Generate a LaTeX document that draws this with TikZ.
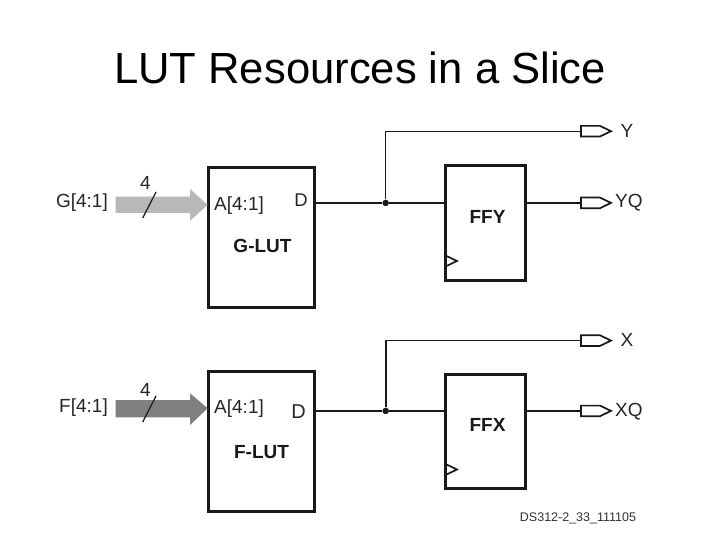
\documentclass[tikz,border=0pt]{standalone}
\usepackage{fontspec}
\setmainfont{Liberation Sans}
\tikzset{
 x=1pt,y=-1pt,
 box/.style={draw=black!90,line width=3pt,fill=white,inner sep=0pt,outer sep=0pt,anchor=north west},
 wire/.style={draw=black!90,line width=1.7pt},
 thin wire/.style={draw=black!90,line width=1.2pt},
 lbl/.style={font=\fontsize{19}{20}\selectfont,text=black!85,inner sep=0pt},
 blbl/.style={font=\fontsize{19}{20}\selectfont\bfseries,text=black!90,inner sep=0pt},
 port/.style={draw=black!90,line width=1.7pt,fill=white,line join=miter},
 dotn/.style={circle,fill=black!90,inner sep=0pt,minimum size=6.5pt},
}
\begin{document}
\begin{tikzpicture}
\useasboundingbox (0,0) rectangle (720,540);
\fill[white] (0,0) rectangle (720,540);
\node[inner sep=0pt,font=\fontsize{43.6}{46}\selectfont,text=black] (title) at (360,68) {LUT Resources in a Slice};
% boxes
\node[box,minimum width=105.7pt,minimum height=140.3pt] (glut) at (208.5,167.2) {};
\node[box,minimum width=105.7pt,minimum height=139.8pt] (flut) at (208.5,371.5) {};
\node[box,minimum width=79.9pt,minimum height=114.7pt] (ffy) at (445.3,165.5) {};
\node[box,minimum width=79.9pt,minimum height=114pt] (ffx) at (445.3,374.8) {};
% bus arrows
\fill[black!28] (115.7,196.7) -- (190,196.7) -- (190,189) -- (207.7,205) -- (190,220.7) -- (190,213) -- (115.7,213) -- cycle;
\fill[black!50] (115.7,400) -- (190,400) -- (190,393.3) -- (207.7,408.3) -- (190,425) -- (190,417.3) -- (115.7,417.3) -- cycle;
\coordinate (gs1) at (142.7,218); \coordinate (gs2) at (156,192);
\coordinate (fs1) at (142.7,422); \coordinate (fs2) at (156,396);
\draw[thin wire] (gs1) -- (gs2);
\draw[thin wire] (fs1) -- (fs2);
% labels left
\node[lbl,anchor=east] (gin) at (108,202.5) {G[4:1]};
\node[lbl,anchor=east] (fin) at (108,408) {F[4:1]};
\node[lbl] (g4) at (145.5,183) {4};
\node[lbl] (f4) at (145.5,390) {4};
\node[lbl,anchor=west] (ga) at (214,205.5) {A[4:1]};
\node[lbl,anchor=west] (fa) at (214,409) {A[4:1]};
\node[lbl,font=\fontsize{18.5}{19}\selectfont] (gd) at (301,200.5) {D};
\node[lbl,font=\fontsize{20}{21}\selectfont] (fd) at (298.5,412) {D};
\node[blbl] (gl) at (262.5,246) {G-LUT};
\node[blbl] (fl) at (261.5,452) {F-LUT};
\node[blbl] (fy) at (487.5,217) {FFY};
\node[blbl] (fx) at (487.5,425) {FFX};
% ports
\foreach \n/\y in {py/131.2,pyq/202.9,px/340.6,pxq/410.9}{
 \draw[port] (581,\y-5.3) -- (600,\y-5.3) -- (611,\y) -- (600,\y+5.3) -- (581,\y+5.3) -- cycle;
 \coordinate (\n) at (581,\y);
}
\node[lbl,anchor=west] (ty) at (620.5,131) {Y};
\node[lbl,anchor=west] (tyq) at (615,202.5) {YQ};
\node[lbl,anchor=west] (tx) at (620.5,340) {X};
\node[lbl,anchor=west] (txq) at (615,411.5) {XQ};
% wires
\node[dotn] (dg) at (385.7,202.9) {};
\node[dotn] (df) at (385.7,410.9) {};
\draw[wire] (glut.east |- dg) -- (dg) -- (ffy.west |- dg);
\draw[wire] (flut.east |- df) -- (df) -- (ffx.west |- df);
\draw[wire] (ffy.east |- pyq) -- (pyq);
\draw[wire] (ffx.east |- pxq) -- (pxq);
\draw[thin wire] (dg) -- (dg |- py) -- (py);
\draw[wire] (df) -- (df |- px) -- (px);
% clock
\draw[line width=1.7pt,black!90] (445.5,255.5) -- (457,261) -- (445.5,266.5);
\draw[line width=1.7pt,black!90] (445.5,464) -- (457,469.5) -- (445.5,475);
\node[inner sep=0pt,font=\fontsize{12.5}{13}\selectfont,text=black!80] (ds) at (578,518) {DS312-2\_33\_111105};
\end{tikzpicture}
\end{document}
